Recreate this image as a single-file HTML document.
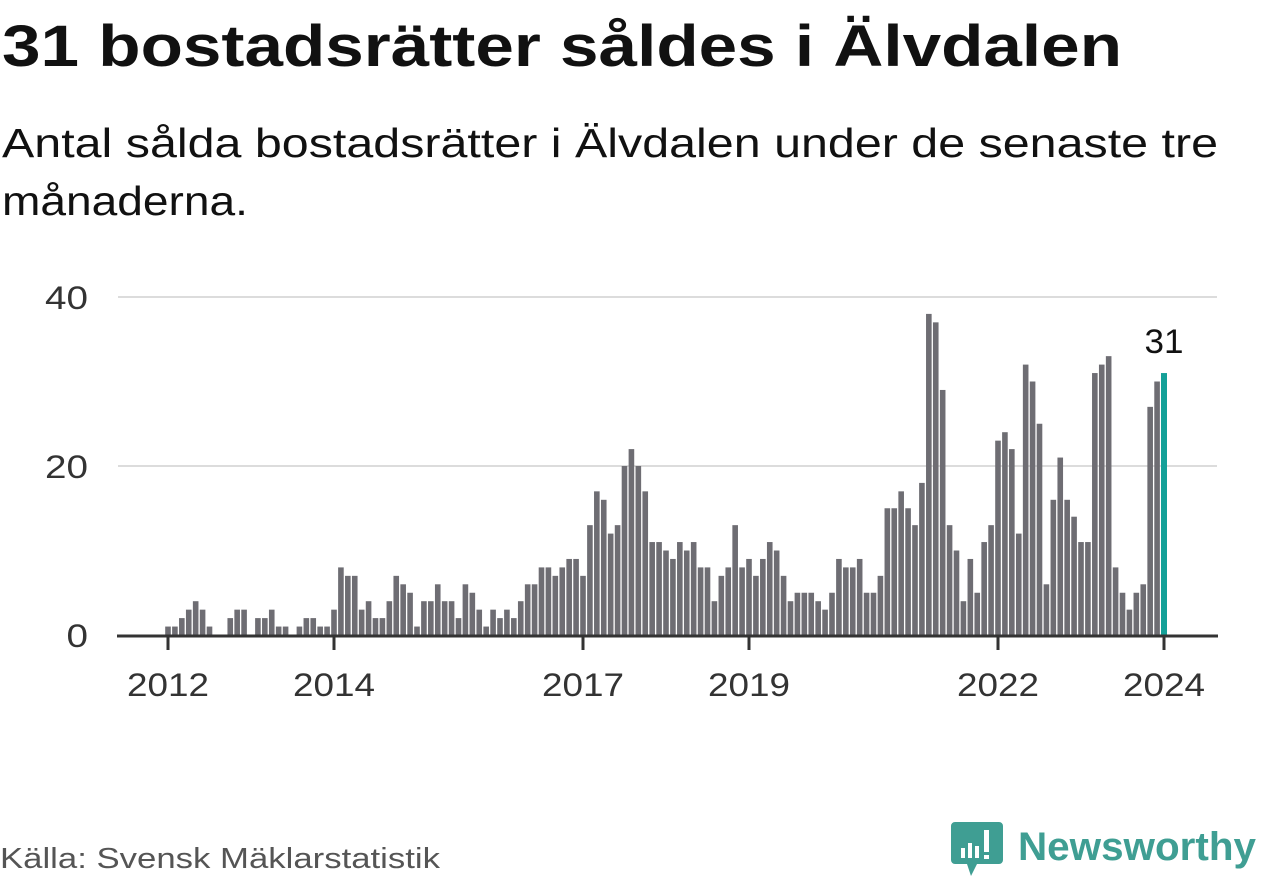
<!DOCTYPE html>
<html><head><meta charset="utf-8"><style>
html,body{margin:0;padding:0;background:#fff;}
svg{display:block;font-family:"Liberation Sans",sans-serif;}
</style></head><body>
<svg id="chart" width="1262" height="879" viewBox="0 0 1262 879">
<text x="2" y="66" font-size="58" font-weight="bold" fill="#111" textLength="1120" lengthAdjust="spacingAndGlyphs">31 bostadsrätter såldes i Älvdalen</text>
<text x="2" y="157" font-size="41" fill="#111" textLength="1216" lengthAdjust="spacingAndGlyphs">Antal sålda bostadsrätter i Älvdalen under de senaste tre</text>
<text x="2" y="215" font-size="41" fill="#111" textLength="246" lengthAdjust="spacingAndGlyphs">månaderna.</text>
<g id="grid"></g>
<g id="bars"></g>
<g id="axis"></g>
<text x="0" y="868" font-size="29" fill="#555" textLength="440" lengthAdjust="spacingAndGlyphs">Källa: Svensk Mäklarstatistik</text>
<g>
<path d="M955 822 h44 a4 4 0 0 1 4 4 v34 a4 4 0 0 1 -4 4 h-22 l-6 12 l-4 -12 h-12 a4 4 0 0 1 -4 -4 v-34 a4 4 0 0 1 4 -4z" fill="#3f9e93"/>
<rect x="961" y="848" width="4" height="10" fill="#fff"/>
<rect x="968" y="843" width="4" height="15" fill="#fff"/>
<rect x="975" y="846" width="4" height="12" fill="#fff"/>
<rect x="984" y="830" width="5" height="22" fill="#fff"/>
<rect x="984" y="855" width="5" height="4" fill="#fff"/>
<text x="1018" y="860" font-size="40" font-weight="bold" fill="#3f9e93" textLength="238" lengthAdjust="spacingAndGlyphs">Newsworthy</text>
</g>
</svg>
<script>
const values = [1,1,2,3,4,3,1,0,0,2,3,3,0,2,2,3,1,1,0,1,2,2,1,1,
3,8,7,7,3,4,2,2,4,7,6,5,1,4,4,6,4,4,2,6,5,3,1,3,2,3,2,4,6,6,8,8,7,8,9,9,
7,13,17,16,12,13,20,22,20,17,11,11,10,9,11,10,11,8,8,4,7,8,13,8,
9,7,9,11,10,7,4,5,5,5,4,3,5,9,8,8,9,5,5,7,15,15,17,15,13,18,38,37,29,13,10,4,9,5,11,13,
23,24,22,12,32,30,25,6,16,21,16,14,11,11,31,32,33,8,5,3,5,6,27,30,31];
const startYear = 2012;
const tickYears = [2012,2014,2017,2019,2022,2024];
const yTicks = [0,20,40];
const NS='http://www.w3.org/2000/svg';
const x0=168, step=996/144, yBase=635, pxPerUnit=(635-297)/40;
const xScale=i=>x0+i*step;
const yScale=v=>yBase-v*pxPerUnit;
function mk(tag,attrs,parent){const e=document.createElementNS(NS,tag);for(const k in attrs)e.setAttribute(k,attrs[k]);parent.appendChild(e);return e;}
const grid=document.getElementById('grid'),bars=document.getElementById('bars'),axis=document.getElementById('axis');
yTicks.forEach(t=>{
  if(t>0){const l=mk('line',{x1:118,x2:1217,y1:yScale(t),y2:yScale(t),stroke:'#dcdcdc','stroke-width':2},grid);
  
  }
  const s=String(t);
  const tx=mk('text',{x:88,y:yScale(t)+12,'font-size':32,fill:'#333','text-anchor':'end',textLength:s.length*21.5,lengthAdjust:'spacingAndGlyphs'},grid);
  tx.textContent=s;
  
  
});
values.forEach((v,i)=>{
  const last=i===values.length-1;
  const r=mk('rect',{x:xScale(i)-(last?3:2.8),y:yScale(v),width:last?6:5.6,height:v*pxPerUnit,fill:last?'#14a098':'#6e6d73'},bars);
  
  
});
const li=values.length-1;
const lbl=mk('text',{x:xScale(li),y:yScale(values[li])-20,'font-size':34,fill:'#111','text-anchor':'middle',textLength:39,lengthAdjust:'spacingAndGlyphs'},bars);
lbl.textContent=values[li];


const al=mk('line',{x1:117,x2:1218,y1:yBase+1,y2:yBase+1,stroke:'#333','stroke-width':3},axis);


tickYears.forEach(yr=>{
  const x=xScale((yr-startYear)*12);
  const tk=mk('line',{x1:x,x2:x,y1:yBase,y2:yBase+15,stroke:'#333','stroke-width':3},axis);
  
  
  const t=mk('text',{x:x,y:696,'font-size':32,fill:'#333','text-anchor':'middle',textLength:82,lengthAdjust:'spacingAndGlyphs'},axis);
  t.textContent=yr;
  
  
});
</script>
</body></html>
